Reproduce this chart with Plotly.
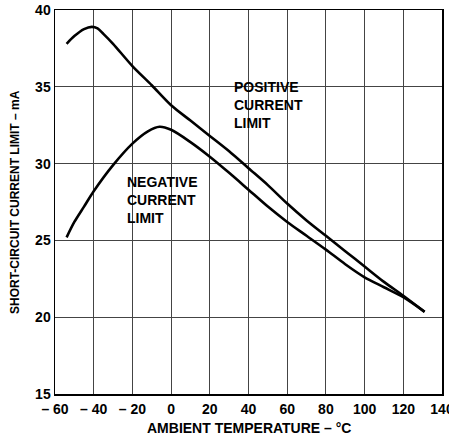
import plotly.graph_objects as go

# Data
pos_temp = [-54, -50, -45, -41, -38, -35, -30, -20, -10, 0, 10, 20, 30, 40, 50, 60, 70, 80, 90, 100, 110, 120, 131]
pos_curr = [37.8, 38.3, 38.75, 38.9, 38.8, 38.45, 37.8, 36.35, 35.1, 33.8, 32.8, 31.8, 30.8, 29.7, 28.6, 27.4, 26.3, 25.3, 24.3, 23.3, 22.3, 21.4, 20.35]

neg_temp = [-54, -50, -45, -40, -30, -20, -12, -6, 0, 10, 20, 30, 40, 50, 60, 70, 80, 90, 100, 110, 120, 131]
neg_curr = [25.2, 26.2, 27.2, 28.2, 29.9, 31.3, 32.1, 32.4, 32.2, 31.4, 30.45, 29.4, 28.3, 27.2, 26.2, 25.3, 24.4, 23.45, 22.6, 21.95, 21.3, 20.35]

x_ticks = [-60, -40, -20, 0, 20, 40, 60, 80, 100, 120, 140]
x_ticktext = ["\u2013 60", "\u2013 40", "\u2013 20", "0", "20", "40", "60", "80", "100", "120", "140"]
y_ticks = [15, 20, 25, 30, 35, 40]
y_ticktext = ["15", "20", "25", "30", "35", "40"]

FONT = "Liberation Sans, Arial, sans-serif"

fig = go.Figure()
fig.add_trace(go.Scatter(x=pos_temp, y=pos_curr, mode="lines",
                         line=dict(color="black", width=2.6, shape="spline", smoothing=0.8),
                         showlegend=False, hoverinfo="skip"))
fig.add_trace(go.Scatter(x=neg_temp, y=neg_curr, mode="lines",
                         line=dict(color="black", width=2.6, shape="spline", smoothing=0.8),
                         showlegend=False, hoverinfo="skip"))

fig.add_annotation(x=31.5, y=33.8, xref="x", yref="y", xanchor="left", yanchor="middle",
                   text="<b>POSITIVE<br>CURRENT<br>LIMIT</b>", showarrow=False, align="left",
                   font=dict(family=FONT, size=14, color="black"))
fig.add_annotation(x=-24, y=27.6, xref="x", yref="y", xanchor="left", yanchor="middle",
                   text="<b>NEGATIVE<br>CURRENT<br>LIMIT</b>", showarrow=False, align="left",
                   font=dict(family=FONT, size=14, color="black"))

# Axis titles
fig.add_annotation(x=0.5, y=0, xref="paper", yref="paper", xanchor="center", yanchor="middle",
                   yshift=-34, text="<b>AMBIENT TEMPERATURE \u2013 \u00b0C</b>", showarrow=False,
                   font=dict(family=FONT, size=14, color="black"))
fig.add_annotation(x=0, y=0.5, xref="paper", yref="paper", xanchor="center", yanchor="middle",
                   xshift=-40, textangle=-90, text="<b>SHORT-CIRCUIT CURRENT LIMIT \u2013 mA</b>",
                   showarrow=False, font=dict(family=FONT, size=12, color="black"))

fig.update_layout(
    width=449, height=439,
    margin=dict(l=55, r=7, t=10, b=45, autoexpand=False),
    paper_bgcolor="white", plot_bgcolor="white",
    font=dict(family=FONT, size=13, color="black"),
)
fig.update_xaxes(range=[-60, 140], tickvals=x_ticks, ticktext=x_ticktext,
                 showgrid=True, gridcolor="#444", gridwidth=1,
                 showline=True, linecolor="black", linewidth=1.5, mirror=True,
                 ticks="", zeroline=False, automargin=False, ticklabelstandoff=2,
                 ticklabeloverflow="allow",
                 tickfont=dict(family=FONT, size=14, color="black", weight="bold"))
fig.update_yaxes(range=[15, 40], tickvals=y_ticks, ticktext=y_ticktext,
                 showgrid=True, gridcolor="#444", gridwidth=1,
                 showline=True, linecolor="black", linewidth=1.5, mirror=True,
                 ticks="", zeroline=False, automargin=False,
                 ticklabeloverflow="allow",
                 tickfont=dict(family=FONT, size=14, color="black", weight="bold"))

fig.write_html("out.html", config={"displayModeBar": False, "staticPlot": True},
               post_script="document.body.style.margin='0';document.body.style.overflow='hidden';")
